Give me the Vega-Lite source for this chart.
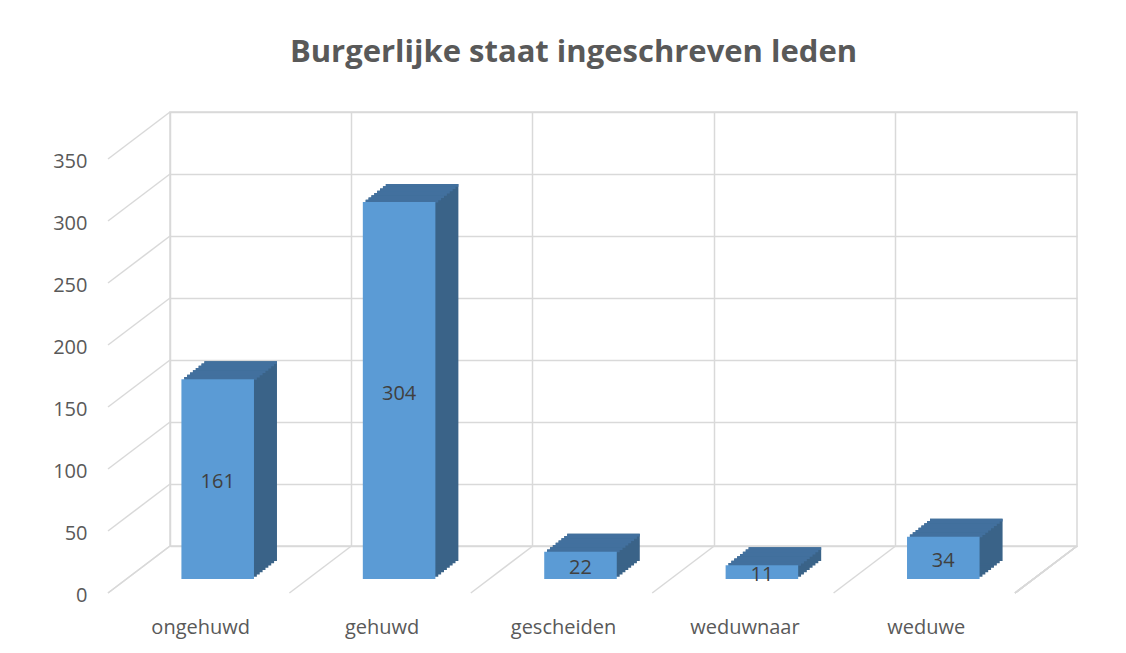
{
  "$schema": "https://vega.github.io/schema/vega-lite/v6.json",
  "width": 907,
  "height": 434,
  "autosize": "none",
  "padding": {"left": 170, "top": 112, "right": 49, "bottom": 107},
  "background": "#ffffff",
  "config": {
    "view": {"stroke": "#D9D9D9", "strokeWidth": 1.5}
  },
  "title": {
    "text": "Burgerlijke staat ingeschreven leden",
    "font": "Open Sans",
    "fontSize": 31,
    "fontWeight": "bold",
    "color": "#595959",
    "anchor": "middle",
    "dx": -50,
    "offset": 18,
    "baseline": "alphabetic"
  },
  "datasets": {
    "main": [
      {"cat": "ongehuwd", "value": 161},
      {"cat": "gehuwd", "value": 304},
      {"cat": "gescheiden", "value": 22},
      {"cat": "weduwnaar", "value": 11},
      {"cat": "weduwe", "value": 34}
    ],
    "ticks": [
      {"v": 0}, {"v": 50}, {"v": 100}, {"v": 150},
      {"v": 200}, {"v": 250}, {"v": 300}, {"v": 350}
    ]
  },
  "resolve": {"scale": {"y": "independent"}},
  "layer": [
    {
      "data": {"name": "main"},
      "encoding": {
        "x": {
          "field": "cat", "type": "nominal",
          "scale": {"domain": ["ongehuwd", "gehuwd", "gescheiden", "weduwnaar", "weduwe"], "paddingInner": 0, "paddingOuter": 0},
          "axis": {
            "title": null, "bandPosition": 0, "grid": true, "gridColor": "#D9D9D9", "gridWidth": 1.5,
            "ticks": false, "domain": false, "labelAngle": 0, "labelOffset": -60, "labelPadding": 71,
            "labelBaseline": "top", "labelFont": "Open Sans", "labelFontSize": 20, "labelColor": "#595959"
          }
        },
        "y": {
          "field": "value", "type": "quantitative",
          "scale": {"domain": [0, 350], "nice": false},
          "axis": {
            "title": null, "values": [0, 50, 100, 150, 200, 250, 300, 350], "grid": true,
            "gridColor": "#D9D9D9", "gridWidth": 1.5, "ticks": false, "domain": false,
            "labelPadding": 83, "labelOffset": 49, "labelFlush": false,
            "labelFont": "Open Sans", "labelFontSize": 20, "labelColor": "#595959"
          }
        }
      },
      "layer": [
        {"mark": {"type": "bar", "color": "#3A6388", "width": {"band": 0.4}, "xOffset": -40.125, "yOffset": 30.75, "y2Offset": 30.75}, "encoding": {"y2": {"datum": 0}}},
        {"mark": {"type": "bar", "color": "#3A6388", "width": {"band": 0.4}, "xOffset": -37.25, "yOffset": 28.5, "y2Offset": 28.5}, "encoding": {"y2": {"datum": 0}}},
        {"mark": {"type": "bar", "color": "#3A6388", "width": {"band": 0.4}, "xOffset": -34.375, "yOffset": 26.25, "y2Offset": 26.25}, "encoding": {"y2": {"datum": 0}}},
        {"mark": {"type": "bar", "color": "#3A6388", "width": {"band": 0.4}, "xOffset": -31.5, "yOffset": 24, "y2Offset": 24}, "encoding": {"y2": {"datum": 0}}},
        {"mark": {"type": "bar", "color": "#3A6388", "width": {"band": 0.4}, "xOffset": -28.625, "yOffset": 21.75, "y2Offset": 21.75}, "encoding": {"y2": {"datum": 0}}},
        {"mark": {"type": "bar", "color": "#3A6388", "width": {"band": 0.4}, "xOffset": -25.75, "yOffset": 19.5, "y2Offset": 19.5}, "encoding": {"y2": {"datum": 0}}},
        {"mark": {"type": "bar", "color": "#3A6388", "width": {"band": 0.4}, "xOffset": -22.875, "yOffset": 17.25, "y2Offset": 17.25}, "encoding": {"y2": {"datum": 0}}},
        {"mark": {"type": "bar", "color": "#3A6388", "width": {"band": 0.4}, "xOffset": -20, "yOffset": 15, "y2Offset": 15}, "encoding": {"y2": {"datum": 0}}},
        {"mark": {"type": "bar", "color": "#42709E", "width": {"band": 0.4}, "xOffset": -40.125, "yOffset": 30.75, "y2Offset": 33.5}, "encoding": {"y2": {"field": "value"}}},
        {"mark": {"type": "bar", "color": "#42709E", "width": {"band": 0.4}, "xOffset": -37.25, "yOffset": 28.5, "y2Offset": 31.25}, "encoding": {"y2": {"field": "value"}}},
        {"mark": {"type": "bar", "color": "#42709E", "width": {"band": 0.4}, "xOffset": -34.375, "yOffset": 26.25, "y2Offset": 29}, "encoding": {"y2": {"field": "value"}}},
        {"mark": {"type": "bar", "color": "#42709E", "width": {"band": 0.4}, "xOffset": -31.5, "yOffset": 24, "y2Offset": 26.75}, "encoding": {"y2": {"field": "value"}}},
        {"mark": {"type": "bar", "color": "#42709E", "width": {"band": 0.4}, "xOffset": -28.625, "yOffset": 21.75, "y2Offset": 24.5}, "encoding": {"y2": {"field": "value"}}},
        {"mark": {"type": "bar", "color": "#42709E", "width": {"band": 0.4}, "xOffset": -25.75, "yOffset": 19.5, "y2Offset": 22.25}, "encoding": {"y2": {"field": "value"}}},
        {"mark": {"type": "bar", "color": "#42709E", "width": {"band": 0.4}, "xOffset": -22.875, "yOffset": 17.25, "y2Offset": 20}, "encoding": {"y2": {"field": "value"}}},
        {"mark": {"type": "bar", "color": "#42709E", "width": {"band": 0.4}, "xOffset": -20, "yOffset": 15, "y2Offset": 17.75}, "encoding": {"y2": {"field": "value"}}},
        {"mark": {"type": "bar", "color": "#5B9BD5", "width": {"band": 0.4}, "xOffset": -43, "yOffset": 33, "y2Offset": 33}, "encoding": {"y2": {"datum": 0}}},
        {
          "data": {"name": "ticks"},
          "mark": {"type": "rule", "color": "#D9D9D9", "strokeWidth": 1.5, "x2Offset": -62, "y2Offset": 47},
          "encoding": {
            "x": {"datum": "ongehuwd", "type": "nominal", "bandPosition": 0},
            "x2": {"datum": "ongehuwd", "bandPosition": 0},
            "y": {"field": "v", "type": "quantitative"},
            "y2": {"field": "v"}
          }
        },
        {
          "mark": {"type": "rule", "color": "#D9D9D9", "strokeWidth": 1.5, "x2Offset": -62, "y2Offset": 47},
          "encoding": {
            "x": {"field": "cat", "type": "nominal", "bandPosition": 0},
            "x2": {"field": "cat", "bandPosition": 0},
            "y": {"datum": 0, "type": "quantitative"},
            "y2": {"datum": 0}
          }
        },
        {
          "mark": {"type": "rule", "color": "#D9D9D9", "strokeWidth": 1.5, "x2Offset": -62, "y2Offset": 47},
          "encoding": {
            "x": {"datum": "weduwe", "type": "nominal", "bandPosition": 1},
            "x2": {"datum": "weduwe", "bandPosition": 1},
            "y": {"datum": 0, "type": "quantitative"},
            "y2": {"datum": 0}
          }
        }
      ]
    },
    {
      "data": {"name": "main"},
      "mark": {"type": "text", "font": "Open Sans", "fontSize": 20, "color": "#404040", "baseline": "middle", "xOffset": -43, "yOffset": 36},
      "encoding": {
        "x": {"field": "cat", "type": "nominal", "scale": {"domain": ["ongehuwd", "gehuwd", "gescheiden", "weduwnaar", "weduwe"], "paddingInner": 0, "paddingOuter": 0}},
        "y": {"field": "value", "type": "quantitative", "scale": {"domain": [0, 700], "nice": false}, "axis": null},
        "text": {"field": "value", "type": "quantitative"}
      }
    }
  ]
}
